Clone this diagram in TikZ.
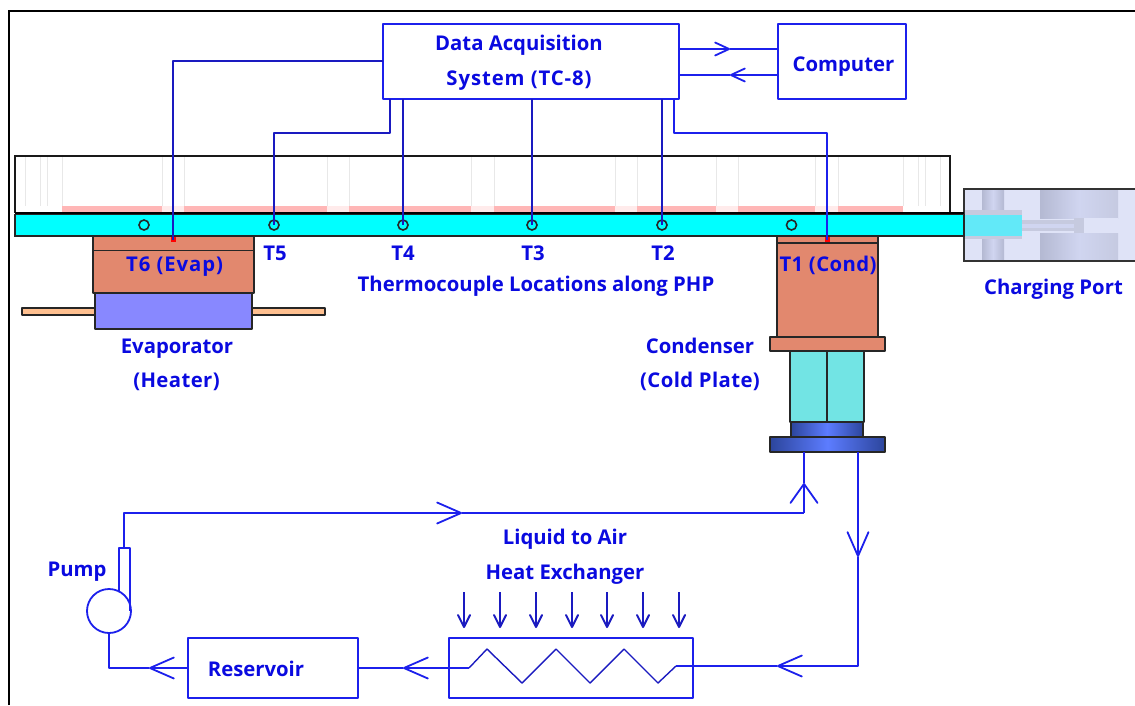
\documentclass[tikz,border=0pt]{standalone}
\usepackage{fontspec}
\setmainfont{Open Sans}[BoldFont={Open Sans Bold}]
\usetikzlibrary{arrows.meta,calc}
\definecolor{txtblue}{HTML}{0A0AE0}
\definecolor{wireblue}{HTML}{1A1AC0}
\definecolor{flowblue}{HTML}{1C20EC}
\definecolor{copperc}{HTML}{E2886E}
\definecolor{heaterc}{HTML}{8888FF}
\definecolor{finc}{HTML}{FFC090}
\definecolor{tealc}{HTML}{72E4E4}
\definecolor{barc}{HTML}{00FFFF}
\definecolor{pinkc}{HTML}{FFB6B6}
\definecolor{pinkl}{HTML}{FFEBEB}
\definecolor{gridc}{HTML}{E8E8E8}
\definecolor{portbg}{HTML}{DFE3F7}
\definecolor{portd}{HTML}{B4B9D2}
\definecolor{portl}{HTML}{D0D5F0}
\definecolor{portt}{HTML}{C6CADF}
\definecolor{cyanl}{HTML}{62E9F8}
\definecolor{bluedk}{HTML}{2C459C}
\definecolor{bluelt}{HTML}{5C7CFF}
\newfontfamily\spacedA{Open Sans}[BoldFont={Open Sans Bold},LetterSpace=2]
\newfontfamily\spacedB{Open Sans}[BoldFont={Open Sans Bold},LetterSpace=4.5]
\tikzset{
  x=1pt,y=-1pt,
  lbl/.style={font=\fontsize{20.3}{22}\selectfont\bfseries,text=txtblue,inner sep=0pt,anchor=center,text height=14.5pt,text depth=0pt},
  lbla/.style={lbl,font=\spacedA\fontsize{20.3}{22}\selectfont\bfseries},
  lblb/.style={lbl,font=\spacedB\fontsize{20.3}{22}\selectfont\bfseries},
  flowbox/.style={draw=flowblue,line width=1.8pt,fill=white,inner sep=0pt,outer sep=0pt,line join=round},
  flow/.style={draw=flowblue,line width=1.8pt,line join=round},
  wire/.style={draw=wireblue,line width=2pt,line join=round},
  bigv/.style={-{Straight Barb[length=24pt,width=21pt,round]}},
  upv/.style={-{Straight Barb[length=19pt,width=27pt,round]}},
  smallv/.style={-{Straight Barb[length=14pt,width=13pt,round]}},
  airv/.style={-{Straight Barb[length=12pt,width=12pt,round]}},
  solid part/.style={draw=black!85,line width=1.6pt,line join=round},
  tc/.style={circle,draw=black!85,line width=1.6pt,minimum size=10pt,inner sep=0pt,outer sep=0pt},
  redspot/.style={fill=red,draw=none,minimum size=5pt,inner sep=0pt,outer sep=0pt},
}
\begin{document}
\begin{tikzpicture}
\useasboundingbox (0,0) rectangle (1135,705);
\fill[white] (0,0) rectangle (1135,705);
% frame
\draw[black,line width=2.2pt] (9,705) -- (9,11) -- (1135,11);

% PHP upper plate
\fill[white] (15,156) rectangle (950,213);
\foreach \xa/\xb in {62/162,184/327,349/471,494/615,637/716,738/815,838/903}
  \fill[pinkc] (\xa,206) rectangle (\xb,213);
\foreach \xa/\xb in {162/184,327/349,471/494,615/637,716/738,815/838}
  \fill[pinkl] (\xa,206) rectangle (\xb,213);
\foreach \xg in {25,40,47,62,162,184,327,349,471,494,615,637,716,738,815,838,903,918,925,940}
  \draw[gridc,line width=1pt] (\xg,157) -- (\xg,206);
\draw[black!90,line width=1.5pt] (15,213) -- (15,156) -- (950,156) -- (950,213);

% charging port
\fill[portbg] (964,189) rectangle (1135,261);
\shade[left color=portd,right color=portd,middle color=portl] (982,189) rectangle (1004,261);
\shade[left color=portd,right color=portd!60!portbg,middle color=portl] (1040,189) rectangle (1118,218);
\shade[left color=portd,right color=portd!60!portbg,middle color=portl] (1040,233) rectangle (1118,261);
\fill[portbg] (1084,218) rectangle (1118,233);
\fill[portt] (964,210) rectangle (1022,239);
\fill[portt] (1022,220) rectangle (1074,231);
\fill[portt] (1074,218) rectangle (1084,233);
\fill[portl] (1022,224) rectangle (1074,228);
\fill[cyanl] (964,215) rectangle (1022,236);
\draw[black!80,line width=1.6pt] (1135,189) -- (964,189) -- (964,261) -- (1135,261);

% evaporator
\draw[solid part,fill=finc] (22,308) rectangle (325,315);
\draw[solid part,fill=copperc] (93,236) rectangle (254,293);
\draw[solid part] (93,250.5) -- (254,250.5);
\draw[solid part,fill=heaterc] (95,293) rectangle (252,329);

% condenser
\draw[solid part,fill=copperc] (777,236) rectangle (878,337);
\draw[solid part] (777,243) -- (878,243);
\draw[solid part,fill=copperc] (770,337) rectangle (885,351);
\draw[solid part,fill=tealc] (790,351) rectangle (864,422);
\draw[solid part] (827,351) -- (827,422);
\shade[left color=bluedk,right color=bluedk,middle color=bluelt] (791,422) rectangle (863,437);
\draw[solid part] (791,422) rectangle (863,437);
\shade[left color=bluedk,right color=bluedk,middle color=bluelt] (770,437) rectangle (885,452);
\draw[solid part] (770,437) rectangle (885,452);

% PHP bar
\fill[black] (15,212) rectangle (964,215);
\draw[black!85,line width=1.5pt,fill=barc] (15,214.5) rectangle (964,236);

% thermocouples
\node[tc] (t0) at (144,225) {};
\node[tc] (t5) at (274,225) {};
\node[tc] (t4) at (403,225) {};
\node[tc] (t3) at (532,225) {};
\node[tc] (t2) at (662,225) {};
\node[tc] (t0b) at (791.5,225) {};
\node[redspot] (t6) at (173,239.5) {};
\node[redspot] (t1) at (827,239.5) {};

% DAQ and computer
\node[flowbox,minimum width=296pt,minimum height=75pt] (daq) at (531,61.5) {};
\node[flowbox,minimum width=128pt,minimum height=75pt] (pc) at (842,61.5) {};
\node[lbl] at (519,43) {Data Acquisition};
\node[lblb] at (519,78) {System (TC-8)};
\node[lbl] (pclabel) at (843.5,64) {Computer};

\coordinate (tipa) at (730,49);
\coordinate (tipb) at (730,75);
\draw[flow,smallv] (daq.east |- tipa) -- (tipa);
\draw[flow] (tipa) -- (pc.west |- tipa);
\draw[flow,smallv] (pc.west |- tipb) -- (tipb);
\draw[flow] (tipb) -- (daq.east |- tipb);

% thermocouple wires
\coordinate (w5a) at (390,99);
\coordinate (w5b) at (390,133);
\coordinate (w1a) at (674,99);
\coordinate (w1b) at (674,133);
\coordinate (w6) at (383,61);
\draw[wire] (w5a) -- (w5b) -| (t5.center);
\draw[wire] (daq.south -| t4) -- (t4.center);
\draw[wire] (daq.south -| t3) -- (t3.center);
\draw[wire] (daq.south -| t2) -- (t2.center);
\draw[flow] (w1a) -- (w1b) -| (t1.center);
\draw[wire] (w6) -| (t6.center);

% labels
\node[lblb] at (174.5,264) {T6 (Evap)};
\node[lbl] at (275,253) {T5};
\node[lbl] at (403,253) {T4};
\node[lbl] at (533,253) {T3};
\node[lbl] at (663,253) {T2};
\node[lbla] at (828,264) {T1 (Cond)};
\node[lbl] at (536,284) {Thermocouple Locations along PHP};
\node[lbl] at (1053.5,287) {Charging Port};
\node[lbl] at (177,346) {Evaporator};
\node[lbla] at (176.5,380) {(Heater)};
\node[lbl] at (700,346) {Condenser};
\node[lbla] at (700,380) {(Cold Plate)};
\node[lbl] at (565,537) {Liquid to Air};
\node[lbl] at (565,572) {Heat Exchanger};
\node[lbl] at (77,569) {Pump};

% coolant loop
\node[flowbox,minimum width=170pt,minimum height=60pt] (res) at (273,668) {};
\node[lbl] at (256,669) {Reservoir};
\node[flowbox,minimum width=244pt,minimum height=60pt] (hx) at (571,668) {};
\node[flowbox,circle,minimum size=44pt] (pump) at (109,611) {};
\draw[flow] (119,591) -- (119,548) -- (130,548) -- (130,611);

\coordinate (pumpout) at (124,548);
\coordinate (corner1) at (124,513);
\coordinate (tipc) at (462,513);
\coordinate (corner2) at (804,513);
\coordinate (tipd) at (804,483);
\coordinate (condin) at (804,452);
\coordinate (condout) at (858,452);
\coordinate (tipe) at (858,557);
\coordinate (corner3) at (858,666);
\coordinate (tipf) at (777,666);
\coordinate (coila) at (676,666);
\coordinate (coilb) at (469,668);
\coordinate (tipg) at (403,668);
\coordinate (tiph) at (149,668);
\coordinate (corner4) at (109,668);

\draw[flow,bigv] (pumpout) -- (corner1) -- (tipc);
\draw[flow] (tipc) -- (corner2);
\draw[flow,upv] (corner2) -- (tipd);
\draw[flow] (tipd) -- (condin);
\draw[flow,bigv] (condout) -- (tipe);
\draw[flow,bigv] (tipe) -- (corner3) -- (tipf);
\draw[flow] (tipf) -- (coila);
\draw[wire,line width=1.4pt] (coila) -- (658,683) -- (624,649) -- (590,683) -- (556,649) -- (522,683) -- (487,649) -- (coilb);
\draw[flow,bigv] (coilb) -- (tipg);
\draw[flow] (tipg) -- (res.east |- tipg);
\draw[flow,bigv] (res.west |- tiph) -- (tiph);
\draw[flow] (tiph) -- (corner4) -- (pump.south);

% air arrows
\foreach \xa in {464,500,536,572,607,643,679}
  \draw[wire,airv] (\xa,592) -- (\xa,628);
\end{tikzpicture}
\end{document}
